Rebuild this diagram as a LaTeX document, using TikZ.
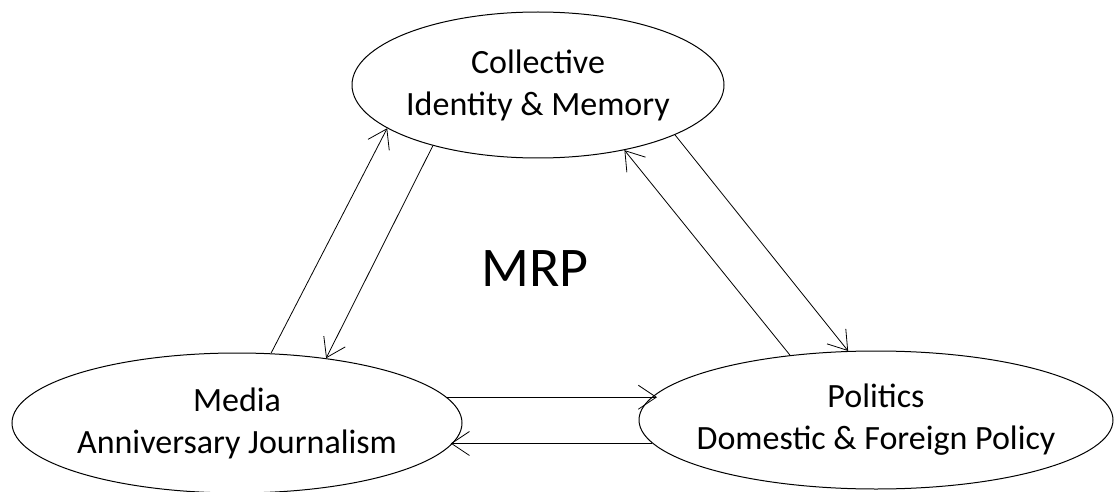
\documentclass[tikz,border=0pt]{standalone}
\usepackage{fontspec}
\setmainfont{Carlito}
\usetikzlibrary{arrows.meta, shapes.geometric}

\begin{document}
\begin{tikzpicture}[
    x=0.5pt, y=-0.5pt,
    every node/.style={font=\fontsize{17}{21}\selectfont},
    bubble/.style={ellipse, draw, align=center, inner xsep=-10pt, inner ysep=0pt, line width=0.5pt},
    arrow/.style={-{Straight Barb[length=9pt,width=12pt]}, line width=0.4pt}
  ]
  \useasboundingbox (0,0) rectangle (1114,492);

  \node[bubble, minimum width=186pt, minimum height=73pt] (memory) at (538,85) {Collective\\Identity \& Memory};
  \node[bubble, minimum width=225pt, minimum height=70pt] (media) at (237,423) {Media\\Anniversary Journalism};
  \node[bubble, minimum width=237pt, minimum height=69pt] (politics) at (876,420) {Politics\\Domestic \& Foreign Policy};
  \node[font=\fontsize{28}{30}\selectfont] (mrp) at (535,269) {MRP};

  \draw[arrow] (media.64) -- (memory.196);
  \draw[arrow] (memory.210) -- (media.36);
  \draw[arrow] (politics.143.8) -- (memory.323);
  \draw[arrow] (memory.340) -- (politics.112.8);
  \draw[arrow] (media.7.4) -- (media.7.4 -| politics.173.8);
  \draw[arrow] (politics.186.2) -- (politics.186.2 -| media.354.4);

\end{tikzpicture}
\end{document}
